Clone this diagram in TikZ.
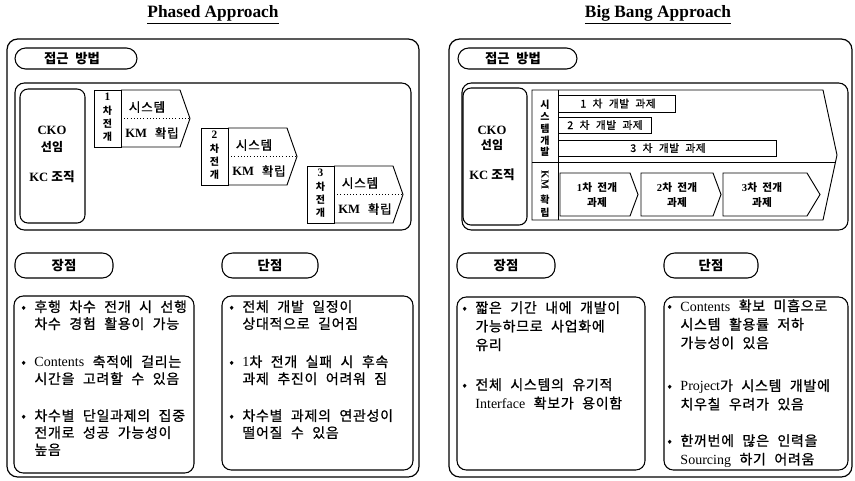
\documentclass[tikz,border=0pt]{standalone}
\usepackage{fontspec}
\setmainfont{Liberation Serif}
\newfontfamily\kr[WordSpace=2.2]{Noto Sans CJK KR}
\newfontfamily\krm[WordSpace=2.2, FakeBold=0.8, LetterSpace=5]{Noto Sans CJK KR}
\usetikzlibrary{positioning,calc}

\begin{document}
\begin{tikzpicture}[x=0.75pt, y=-0.75pt,
  frame/.style={draw, line width=0.9pt, rounded corners=8pt},
  panel/.style={draw, line width=0.8pt, rounded corners=7pt},
  pill/.style={draw, line width=0.8pt, rounded corners=8pt},
  box/.style={draw, line width=0.7pt},
  title/.style={font=\bfseries\fontsize{13}{15}\selectfont},
  head/.style={font=\kr\bfseries\fontsize{10}{12}\selectfont},
  cko/.style={font=\bfseries\fontsize{9.5}{11}\selectfont, inner sep=0pt},
  phlbl/.style={align=center, inner sep=0pt, font=\kr\bfseries\fontsize{7.5}{10}\selectfont},
  phtxt/.style={inner sep=0pt, font=\krm\fontsize{9.5}{11}\selectfont},
  bartxt/.style={inner sep=0pt, font=\krm\fontsize{8}{9}\selectfont},
  chevtxt/.style={align=center, inner sep=0pt, font=\kr\bfseries\fontsize{8}{11.25}\selectfont},
  vlbl/.style={align=center, inner sep=0pt, font=\kr\bfseries\fontsize{7.5}{8.8}\selectfont},
  item/.style={anchor=north west, align=left, inner sep=0pt, font=\krm\fontsize{10.5}{12.75}\selectfont},
  itemb/.style={item, font=\krm\fontsize{10.5}{13.9}\selectfont}
]
\useasboundingbox (0,0) rectangle (855,480);

% titles
\node[title] (ttlA) at (213,15) {\underline{Phased Approach}};
\node[title] (ttlB) at (658,15) {\underline{Big Bang Approach}};

% outer frames
\draw[frame] (7,39) rectangle (419,477);
\draw[frame] (449,39) rectangle (852,477);

%%% Phased approach
\draw[pill] (15,48) rectangle (137,69);
\node[head] (apA) at (72,58.5) {접근 방법};
\draw[panel] (15,83) rectangle (411,230);
\draw[panel, rounded corners=6pt] (20,89) rectangle (85,223);
\node[cko] (ckoA) at (52,130) {CKO};
\node[cko, font=\kr\bfseries\fontsize{9}{11}\selectfont] (snA) at (52,147) {선임};
\node[cko] (kcA) at (52,177) {KC {\kr 조직}};

\foreach \n/\px/\py in {1/94/90, 2/201/128, 3/307/166}{
  \begin{scope}[shift={(\px,\py)}]
    \draw[box] (0,0) rectangle (27,57);
    \draw[box] (27,0) -- (86,0) -- (96,28.5) -- (86,57) -- (27,57);
    \draw[dotted] (27,28.5) -- (96,28.5);
    \node[phlbl] (ph\n) at (13.5,27.5) {{\rmfamily\fontsize{8.5}{10}\selectfont\n}\\차\\전\\개};
    \node[phtxt] (sys\n) at (53,17) {시스템};
    \node[phtxt] (km\n) at (58,43) {{\rmfamily\bfseries KM} 확립};
  \end{scope}
}

\draw[pill] (15,253) rectangle (113,278);
\node[head] (proA) at (64,265.5) {장점};
\draw[pill] (222,253) rectangle (318,278);
\node[head] (conA) at (270,265.5) {단점};

\draw[panel] (14,296) rectangle (194,473);
\draw[panel] (222,296) rectangle (413,470);

\node[item] (pa1) at (21,300) {•\ 후행 차수 전개 시 선행\\\phantom{•\ }차수 경험 활용이 가능};
\node[item] (pa2) at (21,355) {•\ {\rmfamily Contents} 축적에 걸리는\\\phantom{•\ }시간을 고려할 수 있음};
\node[item] (pa3) at (21,409) {•\ 차수별 단일과제의 집중\\\phantom{•\ }전개로 성공 가능성이\\\phantom{•\ }높음};
\node[item] (ca1) at (229,300) {•\ 전체 개발 일정이\\\phantom{•\ }상대적으로 길어짐};
\node[item] (ca2) at (229,355) {•\ {\rmfamily 1}차 전개 실패 시 후속\\\phantom{•\ }과제 추진이 어려워 짐};
\node[item] (ca3) at (229,409) {•\ 차수별 과제의 연관성이\\\phantom{•\ }떨어질 수 있음};

%%% Big bang approach
\draw[pill] (458,48) rectangle (577,69);
\node[head] (apB) at (513,58.5) {접근 방법};
\draw[panel] (462,83) rectangle (848,230);
\draw[panel, rounded corners=6pt] (463,88) rectangle (527,225);
\node[cko] (ckoB) at (492,130) {CKO};
\node[cko, font=\kr\bfseries\fontsize{9}{11}\selectfont] (snB) at (492,145) {선임};
\node[cko] (kcB) at (492,175) {KC {\kr 조직}};

\draw[box] (532,90) -- (823,90) -- (837,155) -- (823,220) -- (532,220) -- cycle;
\draw[box] (558,90) -- (558,220);
\draw[box] (532,162) -- (835.5,162);
\node[vlbl] (sysdev) at (545,128.5) {시\\스\\템\\개\\발};
\node[vlbl, rotate=-90, font=\rmfamily\bfseries\fontsize{8}{9}\selectfont] (kmv) at (545,180) {KM};
\node[vlbl] (hwak) at (545,200) {확};
\node[vlbl] (rip) at (545,213) {립};

\draw[box] (558,95) rectangle (675,112);
\draw[box] (558,117) rectangle (651,133);
\draw[box] (558,140) rectangle (776,156);
\node[bartxt] (dev1) at (618,103.5) {1 차 개발 과제};
\node[bartxt] (dev2) at (605,125) {2 차 개발 과제};
\node[bartxt] (dev3) at (668,148) {3 차 개발 과제};

\foreach \n/\l/\r/\t/\c in {1/560/630/638/597, 2/641/713/721/677, 3/723/807/820/762}{
  \draw[box] (\l,173) -- (\r,173) -- (\t,194.5) -- (\r,216) -- (\l,216) -- cycle;
  \node[chevtxt] (dep\n) at (\c,194.5) {{\rmfamily\n}차 전개\\과제};
}

\draw[pill] (457,253) rectangle (555,278);
\node[head] (proB) at (506,265.5) {장점};
\draw[pill] (664,253) rectangle (758,278);
\node[head] (conB) at (711,265.5) {단점};

\draw[panel] (457,297) rectangle (645,470);
\draw[panel] (664,297) rectangle (848,470);

\node[itemb] (pb1) at (462,301) {•\ 짧은 기간 내에 개발이\\\phantom{•\ }가능하므로 사업화에\\\phantom{•\ }유리};
\node[itemb] (pb2) at (462,378) {•\ 전체 시스템의 유기적\\\phantom{•\ }{\rmfamily Interface} 확보가 용이함};
\node[itemb] (cb1) at (667,299) {•\ {\rmfamily Contents} 확보 미흡으로\\\phantom{•\ }시스템 활용률 저하\\\phantom{•\ }가능성이 있음};
\node[itemb] (cb2) at (667,379) {•\ {\rmfamily Project}가 시스템 개발에\\\phantom{•\ }치우칠 우려가 있음};
\node[itemb] (cb3) at (667,434) {•\ 한꺼번에 많은 인력을\\\phantom{•\ }{\rmfamily Sourcing} 하기 어려움};
\end{tikzpicture}
\end{document}
